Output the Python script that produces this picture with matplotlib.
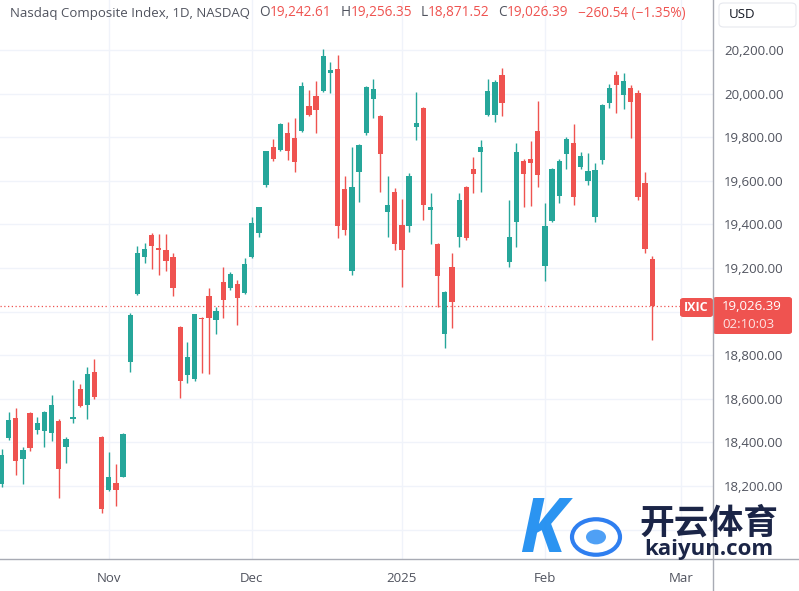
import numpy as np
import pandas as pd
import matplotlib.pyplot as plt
from matplotlib.patches import FancyBboxPatch, Circle

# daily candles, Nasdaq Composite (IXIC)
dates = ["2024-10-11", "2024-10-14", "2024-10-15", "2024-10-16", "2024-10-17", "2024-10-18",
         "2024-10-21", "2024-10-22", "2024-10-23", "2024-10-24", "2024-10-25", "2024-10-28",
         "2024-10-29", "2024-10-30", "2024-10-31", "2024-11-01", "2024-11-04", "2024-11-05",
         "2024-11-06", "2024-11-07", "2024-11-08", "2024-11-11", "2024-11-12", "2024-11-13",
         "2024-11-14", "2024-11-15", "2024-11-18", "2024-11-19", "2024-11-20", "2024-11-21",
         "2024-11-22", "2024-11-25", "2024-11-26", "2024-11-27", "2024-11-29", "2024-12-02",
         "2024-12-03", "2024-12-04", "2024-12-05", "2024-12-06", "2024-12-09", "2024-12-10",
         "2024-12-11", "2024-12-12", "2024-12-13", "2024-12-16", "2024-12-17", "2024-12-18",
         "2024-12-19", "2024-12-20", "2024-12-23", "2024-12-24", "2024-12-26", "2024-12-27",
         "2024-12-30", "2024-12-31", "2025-01-02", "2025-01-03", "2025-01-06", "2025-01-07",
         "2025-01-08", "2025-01-10", "2025-01-13", "2025-01-14", "2025-01-15", "2025-01-16",
         "2025-01-17", "2025-01-21", "2025-01-22", "2025-01-23", "2025-01-24", "2025-01-27",
         "2025-01-28", "2025-01-29", "2025-01-30", "2025-01-31", "2025-02-03", "2025-02-04",
         "2025-02-05", "2025-02-06", "2025-02-07", "2025-02-10", "2025-02-11", "2025-02-12",
         "2025-02-13", "2025-02-14", "2025-02-18", "2025-02-19", "2025-02-20", "2025-02-21",
         "2025-02-24", "2025-02-25"]

opens = [18209, 18419, 18511, 18324, 18533, 18457, 18450, 18445, 18500, 18378, 18508, 18644,
         18572, 18725, 18425, 18182, 18212, 18243, 18767, 19080, 19252, 19351, 19292, 19283,
         19252, 18928, 18709, 18689, 18970, 19070, 18961, 19137, 19107, 19127, 19084, 19252,
         19362, 19581, 19754, 19741, 19818, 19795, 19830, 19943, 19990, 20013, 20096, 20111,
         19561, 19188, 19639, 19818, 19974, 19897, 19455, 19550, 19397, 19393, 19848, 19935,
         19465, 19310, 18897, 19203, 19344, 19573, 19653, 19731, 19902, 19902, 20085, 19229,
         19412, 19692, 19700, 19830, 19211, 19416, 19530, 19723, 19772, 19665, 19599, 19435,
         19695, 19955, 20085, 19994, 20024, 20004, 19589, 19242.61]
highs = [18370, 18541, 18556, 18377, 18540, 18518, 18545, 18617, 18505, 18426, 18686, 18668,
         18747, 18781, 18430, 18357, 18301, 18445, 18994, 19301, 19313, 19362, 19356, 19356,
         19269, 18935, 18862, 18990, 18975, 19107, 19023, 19206, 19183, 19145, 19245, 19435,
         19481, 19738, 19790, 19866, 19871, 19887, 20055, 20017, 20059, 20203, 20146, 20177,
         19622, 19754, 19768, 20035, 20066, 19900, 19622, 19565, 19515, 19637, 20009, 19938,
         19543, 19315, 19096, 19267, 19545, 19578, 19708, 19787, 20066, 20060, 20116, 19512,
         19775, 19700, 19784, 19967, 19500, 19660, 19700, 19800, 19861, 19734, 19729, 19680,
         19950, 20044, 20105, 20096, 20039, 20014, 19642, 19256.35]
lows = [18195, 18410, 18251, 18209, 18360, 18440, 18377, 18408, 18144, 18304, 18488, 18560,
        18506, 18600, 18078, 18178, 18108, 18240, 18724, 19075, 19224, 19195, 19168, 19188,
        19072, 18604, 18672, 18680, 18720, 18714, 18897, 18969, 19100, 18939, 19080, 19245,
        19344, 19573, 19690, 19735, 19695, 19642, 19825, 19895, 19818, 20005, 20001, 19336,
        19350, 19168, 19501, 19810, 19887, 19550, 19341, 19283, 19114, 19367, 19787, 19420,
        19310, 19023, 18832, 18923, 19298, 19330, 19543, 19550, 19895, 19870, 19897, 19206,
        19295, 19481, 19484, 19573, 19142, 19410, 19497, 19653, 19489, 19653, 19581, 19412,
        19677, 19933, 19912, 19928, 19795, 19512, 19270, 18871.52]
closes = [18342.94, 18502.69, 18315.59, 18367.08, 18373.61, 18489.55, 18540.01, 18573.13,
          18276.65, 18415.49, 18518.61, 18567.19, 18712.75, 18607.93, 18095.15, 18239.92,
          18179.98, 18439.17, 18983.47, 19269.46, 19286.78, 19298.76, 19281.40, 19230.72,
          19107.65, 18680.12, 18791.81, 18987.47, 18966.14, 18972.42, 19003.65, 19054.84,
          19174.30, 19060.48, 19218.17, 19403.95, 19480.91, 19735.12, 19700.26, 19859.77,
          19736.69, 19687.24, 20034.89, 19902.84, 19926.72, 20173.89, 20109.06, 19392.69,
          19372.77, 19572.60, 19764.89, 20031.13, 20020.36, 19722.03, 19486.79, 19310.79,
          19280.79, 19621.68, 19864.98, 19489.68, 19478.88, 19161.63, 19088.10, 19044.39,
          19511.23, 19338.29, 19630.20, 19756.78, 20009.34, 20053.68, 19954.30, 19341.83,
          19733.59, 19632.32, 19681.75, 19627.44, 19391.96, 19654.02, 19692.33, 19791.99,
          19523.40, 19714.27, 19643.86, 19649.95, 19945.64, 20026.77, 20041.26, 20056.25,
          19962.36, 19524.01, 19286.93, 19026.39]

price_ticks = [18000, 18200, 18400, 18600, 18800, 19000, 19200, 19400, 19600, 19800, 20000, 20200]
symbol = "IXIC"
title = "Nasdaq Composite Index, 1D, NASDAQ"
countdown = "02:10:03"

GREEN = "#26a69a"
RED = "#ef5350"
GRAY_TXT = "#50535e"
W, H = 799, 591


def fx(px):
    return px / W


def fy(py):
    return 1 - py / H


plt.rcParams['font.family'] = ['Open Sans', 'DejaVu Sans']

opens = np.array(opens)
highs = np.array(highs)
lows = np.array(lows)
closes = np.array(closes)
d = pd.to_datetime(dates)
x = np.arange(len(dates))

fig = plt.figure(figsize=(W / 100, H / 100), dpi=100)
ax = fig.add_axes([0, fy(559), fx(713), 559 / H])

up = closes >= opens
colors = np.where(up, GREEN, RED)
ax.vlines(x, lows, highs, colors=colors, lw=1.0, zorder=2)
ax.bar(x, np.maximum(np.abs(closes - opens), 6), bottom=np.minimum(opens, closes),
       width=0.74, color=colors, lw=0, zorder=3)

# month ticks (first trading day of each month; Mar 3 comes 4 sessions after the last bar)
month_idx = [i for i in range(1, len(d)) if d[i].month != d[i - 1].month]
month_lbl = [d[i].strftime("%Y") if d[i].month == 1 else d[i].strftime("%b") for i in month_idx]
month_idx.append(len(d) + 3)
month_lbl.append("Mar")
ax.set_xticks(month_idx)
ax.set_xticklabels(month_lbl)

# labels hidden behind the watermark / the last-price tag are left blank
ax.set_yticks(price_ticks)
ax.set_yticklabels([f"{v:,.2f}" if (v > price_ticks[0] and abs(v - closes[-1]) > 80) else ""
                    for v in price_ticks])
ax.yaxis.tick_right()
ax.set_xlim(-0.21, 99.5)
ax.set_ylim(17865, 20429)

ax.grid(True, color="#f0f3fa", lw=1, zorder=0)
ax.tick_params(axis='both', length=0, labelsize=9.5, labelcolor=GRAY_TXT)
ax.tick_params(axis='y', pad=8)
ax.tick_params(axis='x', pad=9)
for s in ax.spines.values():
    s.set_visible(False)

# last price dotted line
ax.axhline(closes[-1], color=RED, lw=0.9, ls=(0, (1, 2)), zorder=1)

# borders of the price / time scales
fig.add_artist(plt.Line2D([fx(713), fx(713)], [0, 1], color="#a8abb4", lw=1))
fig.add_artist(plt.Line2D([0, 1], [fy(559), fy(559)], color="#a8abb4", lw=1))

# header legend
renderer = fig.canvas.get_renderer()
chg = closes[-1] - closes[-2]
pct = chg / closes[-2] * 100
vfs = 9.8
parts = [(title, GRAY_TXT, 9, 9.5), ("O", GRAY_TXT, 0, vfs), (f"{opens[-1]:,.2f}", RED, 9, vfs),
         ("H", GRAY_TXT, 0, vfs), (f"{highs[-1]:,.2f}", RED, 9, vfs),
         ("L", GRAY_TXT, 0, vfs), (f"{lows[-1]:,.2f}", RED, 9, vfs),
         ("C", GRAY_TXT, 0, vfs), (f"{closes[-1]:,.2f}", RED, 9, vfs),
         (f"{chg:,.2f} ({pct:.2f}%)".replace("-", "\u2212"), RED, 0, vfs)]
xpos = 10
for s, c, gap, fs in parts:
    t = fig.text(fx(xpos), fy(13), s, color=c, fontsize=fs, va='center', ha='left')
    xpos += t.get_window_extent(renderer).width + gap

# currency button
fig.patches.append(FancyBboxPatch((fx(719), fy(27)), fx(77), 24 / H, boxstyle="round,pad=0,rounding_size=0.006",
                                  transform=fig.transFigure, fc="white", ec="#e6e8ee", lw=0.8))
fig.text(fx(729), fy(14), "USD", fontsize=9.5, color="#131722", va='center')

# symbol and price labels
fig.patches.append(FancyBboxPatch((fx(680), fy(317)), fx(33), 19 / H, boxstyle="round,pad=0,rounding_size=0.004",
                                  transform=fig.transFigure, fc=RED, ec="none"))
fig.text(fx(696), fy(307.5), symbol, fontsize=9, color="white", fontweight='bold', ha='center', va='center')
fig.patches.append(FancyBboxPatch((fx(713), fy(334)), fx(79), 37 / H, boxstyle="round,pad=0,rounding_size=0.004",
                                  transform=fig.transFigure, fc=RED, ec="none"))
fig.text(fx(722), fy(307), f"{closes[-1]:,.2f}", fontsize=9.5, color="white", va='center')
fig.text(fx(722), fy(325), countdown, fontsize=9.5, color="#fde3e3", va='center')

# watermark
fig.text(fx(542), fy(532), "K", fontsize=54, fontstyle='italic', fontweight='bold',
         color="#1f8ef1", ha='center', va='center', alpha=0.95)
fig.patches.append(Circle((fx(596), fy(537)), 24 / W, transform=fig.transFigure,
                          fc="white", ec="#2f7ff0", lw=3))
fig.patches.append(Circle((fx(596), fy(537)), 10 / W, transform=fig.transFigure,
                          fc="#4fa0f5", ec="none"))
fig.text(fx(709), fy(523), "开云体育", fontsize=25, fontweight='bold', color="#1b2547",
         family=['Noto Sans CJK SC', 'DejaVu Sans'], ha='center', va='center')
fig.text(fx(709), fy(550), "kaiyun.com", fontsize=16, fontweight='bold', color="#1b2547",
         ha='center', va='center')

fig.savefig("out.png", dpi=100, facecolor="white")
